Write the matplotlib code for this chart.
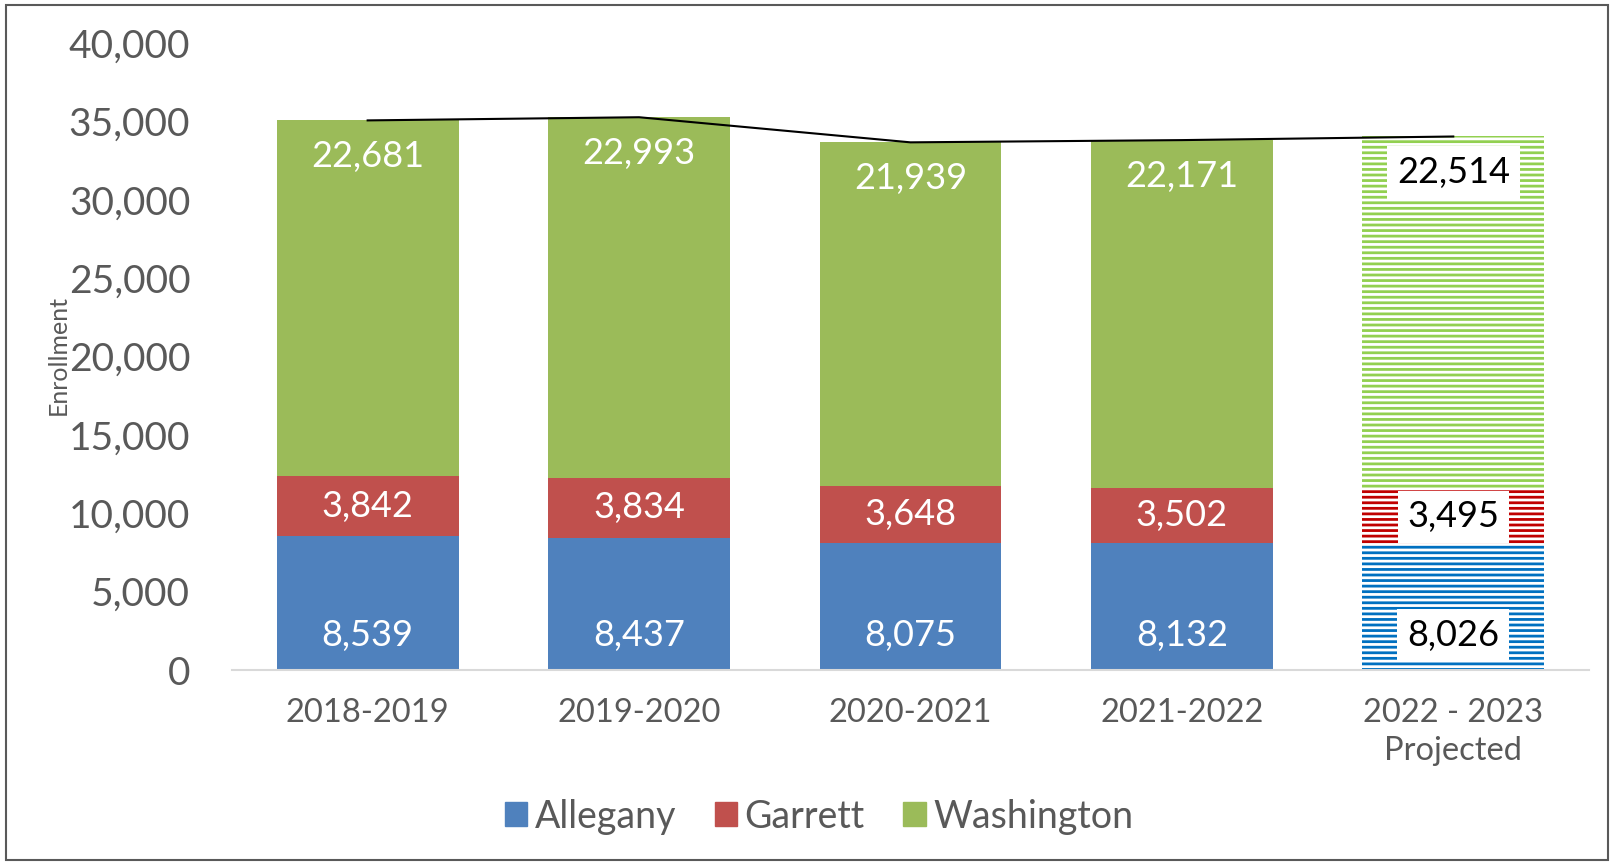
import matplotlib.pyplot as plt
import matplotlib.patches as mpatches
import numpy as np

## Data
years = ["2018-2019", "2019-2020", "2020-2021", "2021-2022", "2022 - 2023\nProjected"]
allegany = [8539, 8437, 8075, 8132, 8026]
garrett = [3842, 3834, 3648, 3502, 3495]
washington = [22681, 22993, 21939, 22171, 22514]

plt.rcParams["font.family"] = ["Lato", "DejaVu Sans"]
plt.rcParams["hatch.linewidth"] = 2.0

col_a, col_g, col_w = "#4F81BD", "#C0504D", "#9BBB59"
hat_a, hat_g, hat_w = "#0070C0", "#C00000", "#92D050"
grey = "#595959"

fig = plt.figure(figsize=(16.14, 8.65), dpi=100)
ax = fig.add_axes([0.1437, 0.2254, 0.8408, 0.7249])

x = np.arange(len(years))
a = np.array(allegany)
g = np.array(garrett)
w = np.array(washington)
width = 0.67

## actual years solid, last year hatched
for i in x:
    proj = i == len(years) - 1
    for bottom, vals, c, hc in [(0, a, col_a, hat_a), (a, g, col_g, hat_g), (a + g, w, col_w, hat_w)]:
        b = bottom[i] if np.ndim(bottom) else 0
        if proj:
            ax.bar(i, vals[i], width, bottom=b, facecolor="white", edgecolor=hc,
                   hatch="---", linewidth=0)
        else:
            ax.bar(i, vals[i], width, bottom=b, color=c, linewidth=0)

## total line
totals = a + g + w
ax.plot(x, totals, color="black", linewidth=1.5)

## labels
for i in x:
    proj = i == len(years) - 1
    kw = dict(ha="center", va="center", fontsize=26)
    if proj:
        kw.update(color="black", bbox=dict(facecolor="white", edgecolor="none", pad=7))
    else:
        kw.update(color="white")
    ax.text(i, 2200, f"{a[i]:,}", **kw)
    ax.text(i, a[i] + g[i] / 2, f"{g[i]:,}", **kw)
    ax.text(i, totals[i] - 2300, f"{w[i]:,}", **kw)

ax.set_xlim(-0.5, 4.5)
ax.set_ylim(0, 40000)
ax.set_yticks(range(0, 40001, 5000))
ax.set_yticklabels([f"{v:,}" for v in range(0, 40001, 5000)], fontsize=28, color=grey)
ax.set_xticks(x)
ax.set_xticklabels(years, fontsize=23.5, color=grey, linespacing=1.35)
ax.tick_params(length=0)
ax.tick_params(axis="y", pad=30)
ax.tick_params(axis="x", pad=20)
for s in ["top", "right", "left"]:
    ax.spines[s].set_visible(False)
ax.spines["bottom"].set_color("#D9D9D9")
ax.spines["bottom"].set_linewidth(1.5)

fig.text(0.036, 0.59, "Enrollment", rotation=90, ha="center", va="center",
         fontsize=18, color=grey)

## legend
handles = [mpatches.Patch(color=c) for c in (col_a, col_g, col_w)]
fig.legend(handles, ["Allegany", "Garrett", "Washington"], loc="center",
           bbox_to_anchor=(0.5075, 0.056), ncol=3, frameon=False, fontsize=27,
           labelcolor=grey, handlelength=0.6, handleheight=0.6, handletextpad=0.2,
           columnspacing=1.03)

## border
fig.add_artist(mpatches.Rectangle((0.004, 0.006), 0.992, 0.988, transform=fig.transFigure,
                                  fill=False, edgecolor=grey, linewidth=1.5))

plt.savefig("out.png", dpi=100)
